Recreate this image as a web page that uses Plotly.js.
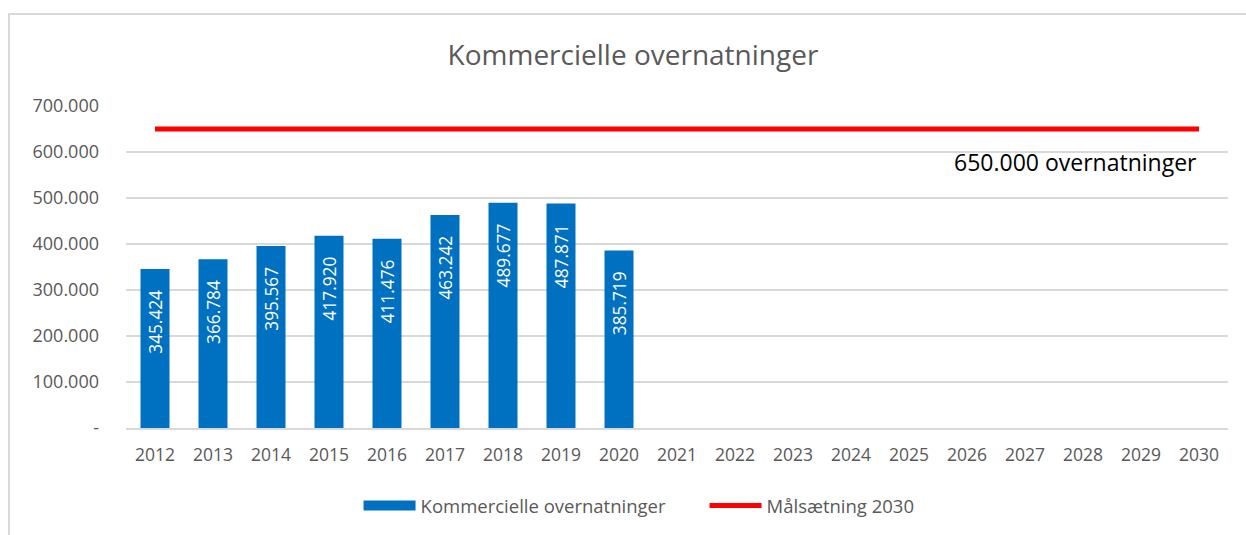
<!DOCTYPE html>
<html>
<head>
<meta charset="utf-8">
<script src="https://cdn.plot.ly/plotly-3.0.1.min.js"></script>
<style>
  html, body { margin: 0; padding: 0; background: #fff; }
  #wrap { position: relative; width: 1246px; height: 535px; overflow: hidden; }
  #chart { position: absolute; left: 0; top: 0; width: 1246px; height: 535px; }
  #frame { position: absolute; left: 8px; top: 13px; width: 1250px; height: 540px;
           border: 2px solid #d9d9d9; pointer-events: none; box-sizing: border-box; }
</style>
</head>
<body>
<div id="wrap">
  <div id="chart"></div>
  <div id="frame"></div>
</div>
<script>
const years = ["2012","2013","2014","2015","2016","2017","2018","2019","2020",
               "2021","2022","2023","2024","2025","2026","2027","2028","2029","2030"];
const overnightValues = [345424, 366784, 395567, 417920, 411476, 463242, 489677, 487871, 385719,
                         null, null, null, null, null, null, null, null, null, null];
const targetValues = [650000, 650000, 650000, 650000, 650000, 650000, 650000, 650000, 650000,
                      650000, 650000, 650000, 650000, 650000, 650000, 650000, 650000, 650000, 650000];
const barLabels = ["345.424","366.784","395.567","417.920","411.476","463.242","489.677","487.871","385.719",
                   "","","","","","","","","",""];
const yTickVals = [0, 100000, 200000, 300000, 400000, 500000, 600000, 700000];
const yTickText = ["-", "100.000", "200.000", "300.000", "400.000", "500.000", "600.000", "700.000"];
const seriesNames = ["Kommercielle overnatninger", "Målsætning 2030"];
const chartTitle = "Kommercielle overnatninger";
const targetNote = "650.000 overnatninger";

const FONT = "Open Sans, sans-serif";
const GREY = "#595959";
const BLUE = "#0070C0";
const PAD = "\u00a0\u00a0\u00a0\u00a0";  // inset of the inside-end labels from the bar top

const traces = [
  {
    type: "bar",
    x: years,
    y: overnightValues,
    name: seriesNames[0],
    showlegend: false,
    marker: { color: BLUE },
    text: barLabels,
    texttemplate: "%{text}" + PAD,
    textposition: "inside",
    insidetextanchor: "end",
    textangle: -90,
    insidetextfont: { family: FONT, size: 18, color: "#ffffff" },
    hoverinfo: "skip"
  },
  {
    // legend entry for the bar series, drawn as a wide rectangle like the original
    type: "scatter",
    mode: "lines",
    x: [null],
    y: [null],
    name: seriesNames[0],
    line: { color: BLUE, width: 12 },
    hoverinfo: "skip"
  },
  {
    type: "scatter",
    mode: "lines",
    x: years,
    y: targetValues,
    name: seriesNames[1],
    line: { color: "#FF0000", width: 5 },
    hoverinfo: "skip"
  }
];

const layout = {
  width: 1246,
  height: 535,
  margin: { l: 126, r: 18, t: 106, b: 107 },
  paper_bgcolor: "rgba(0,0,0,0)",
  plot_bgcolor: "rgba(0,0,0,0)",
  font: { family: FONT, color: GREY, size: 17 },
  title: {
    text: chartTitle,
    font: { family: FONT, size: 28, color: GREY },
    x: 0.508, xanchor: "center",
    y: 1 - 55 / 535, yanchor: "middle", yref: "container"
  },
  bargap: 0.5,
  xaxis: {
    type: "category",
    range: [-0.5, 18.5],
    showgrid: false,
    showline: true,
    linecolor: "#d9d9d9",
    linewidth: 1.5,
    ticks: "",
    tickfont: { family: FONT, size: 17.5, color: GREY },
    ticklabelstandoff: 10,
    fixedrange: true
  },
  yaxis: {
    range: [0, 700000],
    tickvals: yTickVals,
    ticktext: yTickText,
    showgrid: true,
    gridcolor: "#d9d9d9",
    gridwidth: 1.5,
    zeroline: false,
    showline: false,
    ticks: "",
    tickfont: { family: FONT, size: 18, color: GREY },
    ticklabelstandoff: 26,
    fixedrange: true
  },
  legend: {
    orientation: "h",
    x: 0.525, xanchor: "center",
    y: 1 - 506 / 535, yref: "container", yanchor: "middle",
    font: { family: FONT, size: 18.5, color: GREY },
    itemwidth: 52,
    entrywidth: 279,
    entrywidthmode: "pixels",
    traceorder: "normal"
  },
  annotations: [
    {
      xref: "x", yref: "y",
      x: 18, y: 650000,
      text: targetNote,
      showarrow: false,
      xanchor: "right",
      yanchor: "top",
      yshift: -15,
      font: { family: FONT, size: 23, color: "#000000" }
    }
  ],
  showlegend: true
};

Plotly.newPlot("chart", traces, layout, { displayModeBar: false, staticPlot: true });
</script>
</body>
</html>
